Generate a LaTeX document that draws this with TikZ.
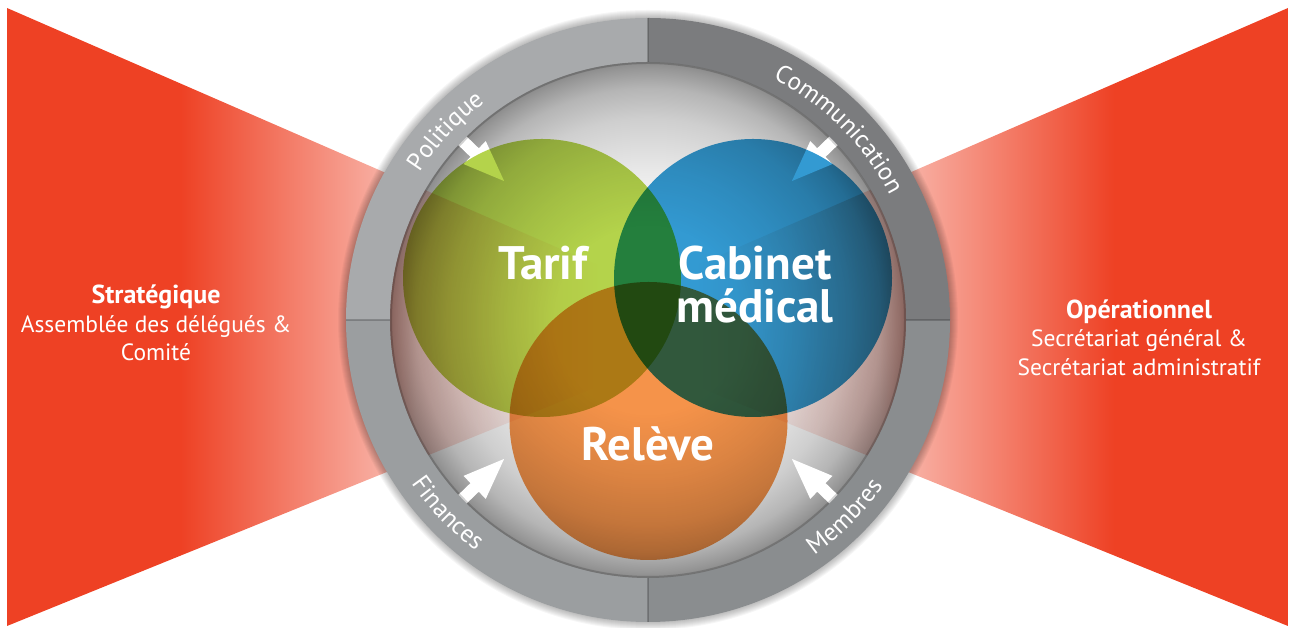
\documentclass[tikz,border=0pt]{standalone}
\usepackage{fontspec}
\setmainfont{PT Sans}
\usetikzlibrary{decorations.text}
\definecolor{redA}{RGB}{238,65,36}
\definecolor{ringTL}{RGB}{168,170,172}
\definecolor{ringTR}{RGB}{123,124,126}
\definecolor{ringBL}{RGB}{155,158,160}
\definecolor{ringBR}{RGB}{138,141,143}
\definecolor{cGreen}{RGB}{180,211,75}
\definecolor{cBlue}{RGB}{51,154,210}
\definecolor{cOrange}{RGB}{245,147,74}
% TikZ maps the central 25bp..75bp of a shading onto the path's bounding box
\pgfdeclareradialshading{diskshade}{\pgfpoint{0bp}{0bp}}{color(0bp)=(white); color(9bp)=(white); color(14.5bp)=(black!9); color(19.4bp)=(black!19); color(22.3bp)=(black!29); color(24.2bp)=(black!41); color(25bp)=(black!47); color(50bp)=(black!47)}
\pgfdeclarehorizontalshading{lredshade}{100bp}{color(0bp)=(redA); color(36.8bp)=(redA); color(50.6bp)=(redA!42); color(52.8bp)=(redA!25); color(58.9bp)=(redA!10); color(65.3bp)=(white); color(100bp)=(white)}
\pgfdeclarehorizontalshading{rredshade}{100bp}{color(0bp)=(white); color(34.7bp)=(white); color(41.1bp)=(redA!10); color(47.2bp)=(redA!25); color(49.4bp)=(redA!42); color(63.2bp)=(redA); color(100bp)=(redA)}
\newcommand\ringfont{\fontsize{25}{25}\selectfont}
\begin{document}
\begin{tikzpicture}[x=1pt,y=1pt,
  bigtext/.style={text=white, font=\fontsize{47}{47}\selectfont\bfseries, anchor=base, inner sep=0pt},
  sidetext/.style={text=white, font=\fontsize{23.5}{23.5}\selectfont, anchor=base, inner sep=0pt},
  sidebold/.style={sidetext, font=\fontsize{26}{26}\selectfont\bfseries},
  inarrow/.style={fill=white},
  venn/.style={blend mode=multiply}]
\useasboundingbox (0,0) rectangle (1294,628);
% inner disk
\shade[shading=diskshade] (648,308) circle[radius=260];
% red wedges (multiply)
\shade[shading=lredshade, blend mode=multiply] (7,620) -- (742,300) -- (7,2) -- cycle;
\shade[shading=rredshade, blend mode=multiply] (1288,620) -- (553,300) -- (1288,2) -- cycle;
% arrows
\foreach \a in {136,44,224,316}{
  \begin{scope}[shift={(648,308)}, rotate=\a]
    \fill[inarrow] (264,6) -- (241,6) -- (241,16) -- (200,0) -- (241,-16) -- (241,-6) -- (264,-6) -- cycle;
  \end{scope}
}
% circles
\fill[cGreen, venn] (542,350) circle[radius=139];
\fill[cBlue, venn] (753,350) circle[radius=139];
\fill[cOrange, venn] (648.5,207) circle[radius=139];
% ring
\begin{scope}[shift={(648,308)}]
  \foreach \k in {2,4,...,16}{\draw[black, opacity=0.035, line width=\k] (0,0) circle[radius=302];}
  \fill[ringTR] (0:302) arc[start angle=0, end angle=90, radius=302] -- (90:258) arc[start angle=90, end angle=0, radius=258] -- cycle;
  \fill[ringTL] (90:302) arc[start angle=90, end angle=180, radius=302] -- (180:258) arc[start angle=180, end angle=90, radius=258] -- cycle;
  \fill[ringBL] (180:302) arc[start angle=180, end angle=270, radius=302] -- (270:258) arc[start angle=270, end angle=180, radius=258] -- cycle;
  \fill[ringBR] (270:302) arc[start angle=270, end angle=360, radius=302] -- (0:258) arc[start angle=360, end angle=270, radius=258] -- cycle;
  \foreach \a in {0,90,180,270}{\draw[black, opacity=0.2, line width=1.5] (\a:258) -- (\a:302);}
  \draw[black, opacity=0.18, line width=2] (0,0) circle[radius=257];
  % ring labels
  \path[decorate, decoration={text along path, text align=center, text color=white, text={|\ringfont|Politique}}] (177:272) arc[start angle=177, end angle=97, radius=272];
  \path[decorate, decoration={text along path, text align=center, text color=white, text={|\ringfont|Communication}}] (85:272) arc[start angle=85, end angle=5, radius=272];
  \path[decorate, decoration={text along path, text align=center, text color=white, text={|\ringfont|Finances}}] (184:288) arc[start angle=184, end angle=264, radius=288];
  \path[decorate, decoration={text along path, text align=center, text color=white, text={|\ringfont|Membres}}] (275:288) arc[start angle=275, end angle=355, radius=288];
\end{scope}
% circle labels
\node[bigtext] (tarif) at (543,348) {Tarif};
\node[bigtext] (cab1) at (755,348) {Cabinet};
\node[bigtext] (cab2) at (755,305) {médical};
\node[bigtext] (releve) at (648,167) {Relève};
% side labels
\node[sidebold] (strat) at (156,324) {Stratégique};
\node[sidetext] (assem) at (156,295) {Assemblée des délégués \&};
\node[sidetext] (comite) at (156,267) {Comité};
\node[sidebold] (oper) at (1139,309) {Opérationnel};
\node[sidetext] (sec1) at (1139,281) {Secrétariat général \&};
\node[sidetext] (sec2) at (1139,252) {Secrétariat administratif};
\end{tikzpicture}
\end{document}
